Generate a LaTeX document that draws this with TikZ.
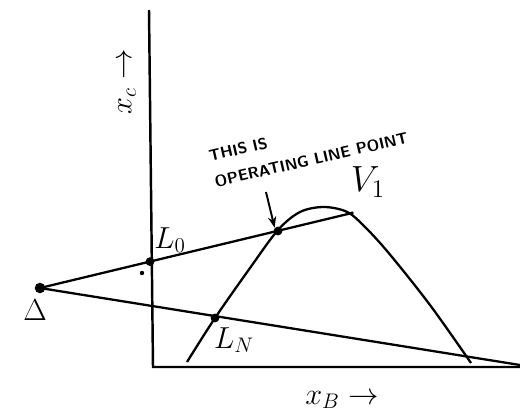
\documentclass[tikz,border=0pt]{standalone}
\usepackage{tikz}
\usetikzlibrary{arrows.meta, positioning, calc}

\begin{document}
\begin{tikzpicture}[x=0.02cm, y=-0.02cm,
  axis/.style={line width=1.4pt, black},
  tie/.style={line width=1.3pt, black},
  curve/.style={line width=1.3pt, black},
  pt/.style={circle, fill=black, inner sep=0pt, minimum size=5pt},
  lbl/.style={font=\LARGE, inner sep=1pt},
  note/.style={font=\sffamily\bfseries\small, align=left, rotate=13, inner sep=0pt},
  arr/.style={-{Stealth[length=2.2mm]}, line width=1.1pt},
]
  \useasboundingbox (0,0) rectangle (520,417);

  % Axes
  \coordinate (ytop) at (149,10);
  \coordinate (orig) at (153,367);
  \coordinate (xend) at (520,367);
  \draw[axis] (ytop) -- (orig) -- (xend);
  \node[lbl, rotate=90] (xc) at (127,82) {$x_c \rightarrow$};
  \node[lbl] (xb) at (342,400) {$x_B \rightarrow$};

  % Points
  \node[pt, minimum size=6pt] (delta) at (40,288) {};
  \node[pt] (lzero) at (150,261.6) {};
  \node[pt] (op) at (278,231) {};
  \node[pt, minimum size=2pt] (vone) at (352,213) {};
  \node[pt] (ln) at (215,318) {};
  \node[pt, minimum size=2.5pt] (speck) at (142,273) {};
  \coordinate (lowend) at (520,365);

  % Tie lines through Delta
  \draw[tie] (delta.center) -- (vone.center);
  \draw[tie] (delta.center) -- (lowend);

  % Solubility curve
  \draw[curve] plot[smooth, tension=0.55] coordinates {
    (187,362) (215,318) (250,268) (278,230) (300,212) (323,207)
    (345,211) (360,222) (387,251) (430,305) (471,363)};

  % Labels
  \node[lbl] (dlbl) at (35,310) {$\Delta$};
  \node[lbl] (l0lbl) at (170,240) {$L_0$};
  \node[lbl] (lnlbl) at (234,340) {$L_N$};
  \node[lbl, font=\huge] (v1lbl) at (368,182) {$V_1$};

  % Note with arrow
  \node[note, anchor=south west] (txt) at (216,188)
    {THIS IS\\[4pt]OPERATING LINE POINT};
  \coordinate (arrtop) at (266,192);
  \draw[arr] (arrtop) -- (op.north west);
\end{tikzpicture}
\end{document}
